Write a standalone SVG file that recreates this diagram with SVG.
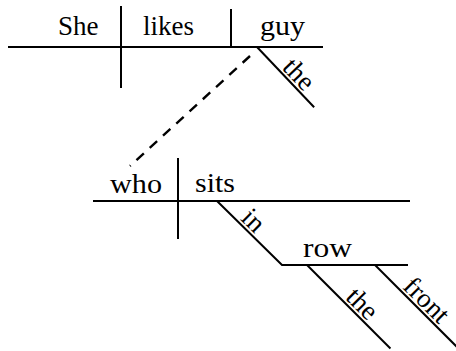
<svg xmlns="http://www.w3.org/2000/svg" width="456" height="351" viewBox="0 0 456 351" font-family="Liberation Serif, Times New Roman, serif" font-size="27">
  <style>
    .ln { stroke: #000; stroke-width: 2; fill: none; stroke-linecap: butt; }
    .dash { stroke: #000; stroke-width: 2.4; fill: none; stroke-dasharray: 10 8; }
  </style>
  <rect width="456" height="351" fill="#fff"/>

  <!-- main clause: She likes guy -->
  <g id="main-clause">
    <line class="ln" x1="8" y1="47" x2="323" y2="47"/>
    <line class="ln" x1="121" y1="6" x2="121" y2="88"/>
    <line class="ln" x1="231" y1="9" x2="231" y2="47"/>
    <text x="58" y="35">She</text>
    <text x="143" y="35">likes</text>
    <text x="260" y="35" textLength="45" lengthAdjust="spacingAndGlyphs">guy</text>
  </g>

  <!-- modifier of guy -->
  <g id="mod-the-guy" transform="translate(257,47) rotate(46.5)">
    <line class="ln" x1="0" y1="0" x2="83" y2="0"/>
    <text x="32" y="-3">the</text>
  </g>

  <!-- relative clause: who sits -->
  <g id="relative-clause">
    <line class="ln" x1="93" y1="201" x2="410" y2="201"/>
    <line class="ln" x1="178" y1="158" x2="178" y2="239"/>
    <text x="110" y="193" textLength="52" lengthAdjust="spacingAndGlyphs">who</text>
    <text x="195" y="192" textLength="40" lengthAdjust="spacingAndGlyphs">sits</text>
  </g>

  <!-- prepositional phrase: in row -->
  <g id="prep-in-row">
    <polyline class="ln" points="217,201 282,265 408,265"/>
    <text transform="translate(217,201) rotate(44.5)" x="29" y="-3">in</text>
    <text x="303" y="257" textLength="49" lengthAdjust="spacingAndGlyphs">row</text>
  </g>

  <g id="mod-the-row" transform="translate(307,265) rotate(45)">
    <line class="ln" x1="0" y1="0" x2="118" y2="0"/>
    <text x="50" y="-3">the</text>
  </g>

  <g id="mod-front" transform="translate(375,265) rotate(45)">
    <line class="ln" x1="0" y1="0" x2="118" y2="0"/>
    <text x="35" y="-3">front</text>
  </g>

  <!-- connectors -->
  <g id="connectors">
    <line class="dash" x1="250" y1="56" x2="130" y2="166"/>
  </g>
</svg>
